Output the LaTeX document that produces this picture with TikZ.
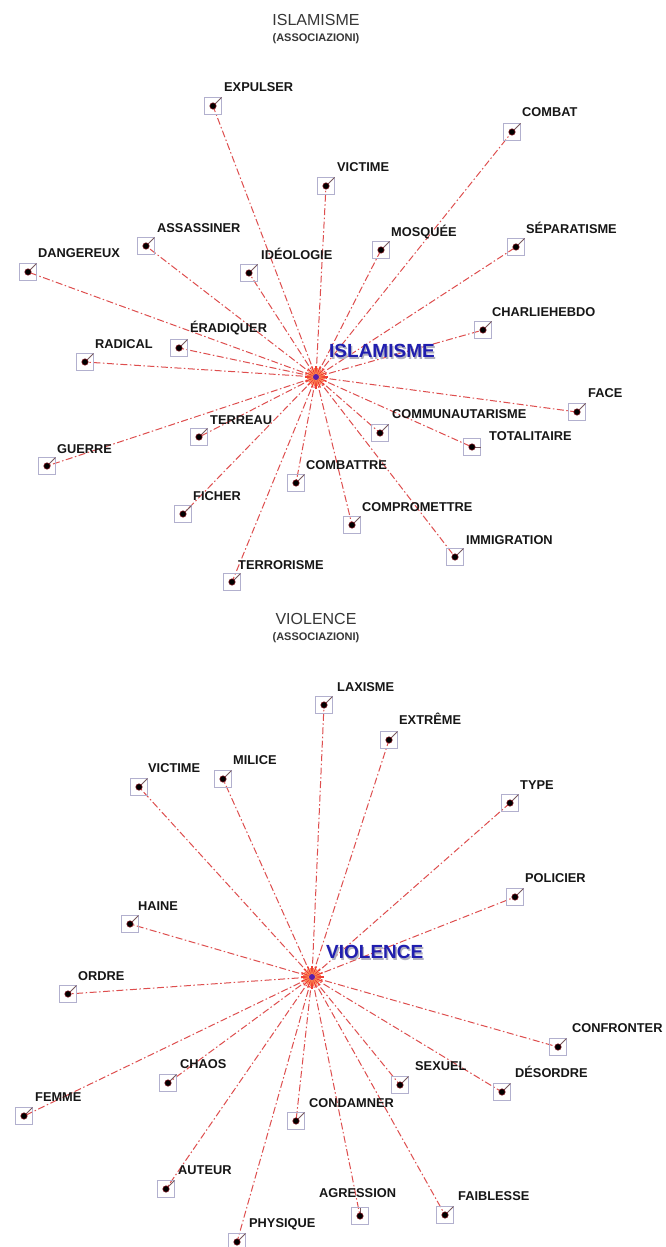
\documentclass[tikz,border=0pt]{standalone}
\usepackage{fontspec}
\setmainfont{Liberation Sans}
\definecolor{edgered}{RGB}{222,78,78}
\definecolor{boxgray}{RGB}{178,176,206}
\definecolor{leadgray}{RGB}{120,90,95}
\definecolor{labelblack}{RGB}{22,22,22}
\definecolor{titlegray}{RGB}{55,55,55}
\definecolor{hubblue}{RGB}{32,30,175}
\definecolor{hubshadow}{RGB}{175,175,190}
\definecolor{burstred}{RGB}{240,60,50}
\definecolor{burstorange}{RGB}{250,130,80}
\definecolor{hubcore}{RGB}{90,30,170}
\definecolor{dotrim}{RGB}{120,20,30}
\begin{document}
\begin{tikzpicture}[x=1pt,y=-1pt,
  edge/.style={draw=edgered, line width=1pt, dash pattern=on 7pt off 2.5pt on 1.5pt off 2.5pt},
  mk/.style={draw=boxgray, line width=0.8pt, minimum size=17pt, inner sep=0pt, outer sep=0pt},
  leader/.style={draw=leadgray, line width=0.8pt},
  lbl/.style={anchor=base west, inner sep=0pt, yshift=-4.6pt, font=\bfseries\fontsize{12.8}{14}\selectfont, text=labelblack},
  title/.style={inner sep=0pt, font=\fontsize{16}{18}\selectfont, text=titlegray},
  subtitle/.style={inner sep=0pt, font=\bfseries\fontsize{11}{13}\selectfont, text=titlegray},
  hub/.style={anchor=base west, inner sep=0pt, yshift=-6.8pt, font=\bfseries\fontsize{19}{21}\selectfont}
]
\useasboundingbox[fill=white] (0,0) rectangle (666,1247);

% ---------- titles ----------
\node[title] (t1) at (316,20) {ISLAMISME};
\node[subtitle] (s1) at (316,39) {(ASSOCIAZIONI)};
\node[title] (t2) at (316,619) {VIOLENCE};
\node[subtitle] (s2) at (316,638) {(ASSOCIAZIONI)};

% ---------- hubs ----------
\coordinate (ci) at (316,377);
\coordinate (cv) at (312,977);

% ---------- ISLAMISME star: word positions and spokes ----------
\foreach \n/\x/\y in {
  a1/213/106, a2/512/132, a3/326/186, a4/146/246, a5/249/273,
  a6/381/250, a7/516/247, a8/28/272, a9/483/330, a10/179/348,
  a11/85/362, a12/577/412, a13/380/433, a14/472/447, a15/199/437,
  a16/47/466, a17/296/483, a18/183/514, a19/352/525, a20/455/557,
  a21/232/582}
{
  \coordinate (p\n) at (\x,\y);
  \draw[edge] (ci) -- (p\n);
}

% ---------- VIOLENCE star: word positions and spokes ----------
\foreach \n/\x/\y in {
  v1/324/705, v2/389/740, v3/139/787, v4/223/779, v5/510/803,
  v6/515/897, v7/130/924, v8/68/994, v9/558/1047, v10/168/1083,
  v11/400/1085, v12/502/1092, v13/24/1116, v14/296/1121, v15/166/1189,
  v16/360/1216, v17/445/1215, v18/237/1242}
{
  \coordinate (p\n) at (\x,\y);
  \draw[edge] (cv) -- (p\n);
}

% ---------- markers, leaders and labels ----------
\foreach \n/\la/\lx/\ly/\t in {
  a1/north east/224/87/EXPULSER, a2/north east/522/112/COMBAT,
  a3/north east/337/167/VICTIME, a4/north east/157/228/ASSASSINER,
  a5/north east/261/255/IDÉOLOGIE, a6/north east/391/232/MOSQUÉE,
  a7/north east/526/229/SÉPARATISME, a8/north east/38/253/DANGEREUX,
  a9/north east/492/312/CHARLIEHEBDO, a10/north east/190/328/ÉRADIQUER,
  a11/north east/95/344/RADICAL, a12/north east/588/393/FACE,
  a13/north east/392/414/COMMUNAUTARISME, a14/east/489/436/TOTALITAIRE,
  a15/north east/210/420/TERREAU, a16/north east/57/449/GUERRE,
  a17/north east/306/465/COMBATTRE, a18/north east/193/496/FICHER,
  a19/north east/362/507/COMPROMETTRE, a20/north east/466/540/IMMIGRATION,
  a21/north east/238/565/TERRORISME,
  v1/north east/337/687/LAXISME, v2/north east/399/720/EXTRÊME,
  v3/north east/148/768/VICTIME, v4/north east/233/760/MILICE,
  v5/north east/520/785/TYPE, v6/north east/525/878/POLICIER,
  v7/north east/138/906/HAINE, v8/north east/78/976/ORDRE,
  v9/north east/572/1028/CONFRONTER, v10/north east/180/1064/CHAOS,
  v11/north east/415/1066/SEXUEL, v12/north east/515/1073/DÉSORDRE,
  v13/north east/35/1097/FEMME, v14/north east/309/1103/CONDAMNER,
  v15/north east/178/1170/AUTEUR, v16/north/319/1193/AGRESSION,
  v17/north east/458/1196/FAIBLESSE, v18/north east/249/1223/PHYSIQUE}
{
  \node[mk] (b\n) at (p\n) {};
  \draw[leader] (b\n.center) -- (b\n.\la);
  \filldraw[fill=black, draw=dotrim, line width=0.6pt] (b\n.center) circle (3.2);
  \node[lbl] (l\n) at (\lx,\ly) {\t};
}

% ---------- hub bursts ----------
\foreach \c in {ci,cv}{
  \fill[burstorange, opacity=0.55] (\c) circle (7);
  \foreach \a in {0,22.5,...,337.5}
    \draw[burstred, line width=1.3pt] (\c) -- ++(\a:11.5);
  \foreach \a in {11.25,33.75,...,348.75}
    \draw[burstorange, line width=1.1pt] (\c) -- ++(\a:9);
  \fill[hubcore] (\c) circle (3);
}

% ---------- hub labels ----------
\node[hub, text=hubshadow, xshift=1.3pt, yshift=-1.3pt] (hi0) at (329,351) {ISLAMISME};
\node[hub, text=hubblue] (hi) at (329,351) {ISLAMISME};
\node[hub, text=hubshadow, xshift=1.3pt, yshift=-1.3pt] (hv0) at (326,952) {VIOLENCE};
\node[hub, text=hubblue] (hv) at (326,952) {VIOLENCE};
\end{tikzpicture}
\end{document}
